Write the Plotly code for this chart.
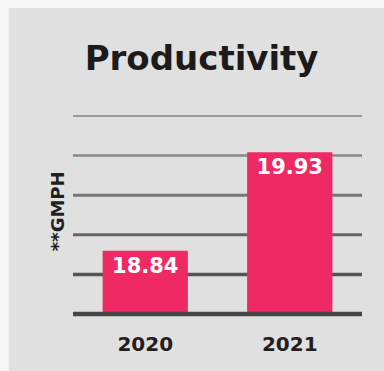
import plotly.graph_objects as go

years = ["2020", "2021"]
gmph = [18.84, 19.93]
value_labels = ["18.84", "19.93"]
chart_title = "Productivity"
y_label = "**GMPH"

y_min, y_max = 18.14, 20.33
font_family = "DejaVu Sans"
bar_color = "#EF2963"

fig = go.Figure()
fig.add_trace(go.Bar(
    x=years, y=gmph, text=value_labels,
    textposition="inside", insidetextanchor="end",
    textfont=dict(family=font_family, size=21, color="white", weight="bold"),
    marker=dict(color=bar_color, line=dict(width=0)),
    width=0.59, constraintext="none",
))

# gray panel behind everything
shapes = [dict(type="rect", xref="paper", yref="paper",
               x0=-0.222, x1=1.2, y0=-0.5, y1=1.545,
               fillcolor="#e0e0e0", line=dict(width=0), layer="below")]
# graduated gridlines (lighter/thinner at top)
grid_styles = [("#444444", 4.5), ("#555555", 3.5), ("#666666", 3),
               ("#767676", 3), ("#888888", 2.5), ("#999999", 2.2)]
for i, (c, w) in enumerate(grid_styles):
    shapes.append(dict(type="line", xref="paper", yref="paper",
                       x0=0, x1=1, y0=i / 5, y1=i / 5,
                       line=dict(color=c, width=w),
                       layer="above" if i == 0 else "below"))

fig.update_layout(
    width=384, height=371,
    margin=dict(l=73, r=22, t=116, b=57),
    paper_bgcolor="#f5f5f5", plot_bgcolor="rgba(0,0,0,0)",
    showlegend=False, bargap=0.41,
    shapes=shapes,
    title=dict(text=chart_title, x=0.525, xanchor="center",
               y=1 - 58 / 371, yanchor="middle", yref="container",
               font=dict(family=font_family, size=34, color="#1c1a1b", weight="bold")),
    xaxis=dict(showgrid=False, zeroline=False, showline=False,
               ticks="outside", ticklen=12, tickcolor="rgba(0,0,0,0)",
               tickfont=dict(family=font_family, size=20, color="#231f20", weight="bold")),
    yaxis=dict(range=[y_min, y_max], showgrid=False, zeroline=False,
               showline=False, showticklabels=False, ticks=""),
    annotations=[dict(text=y_label, xref="paper", yref="paper",
                      x=-0.055, y=0.52, textangle=-90, showarrow=False,
                      xanchor="center", yanchor="middle",
                      font=dict(family=font_family, size=18, color="#231f20", weight="bold"))],
)

fig.write_html("out.html")
